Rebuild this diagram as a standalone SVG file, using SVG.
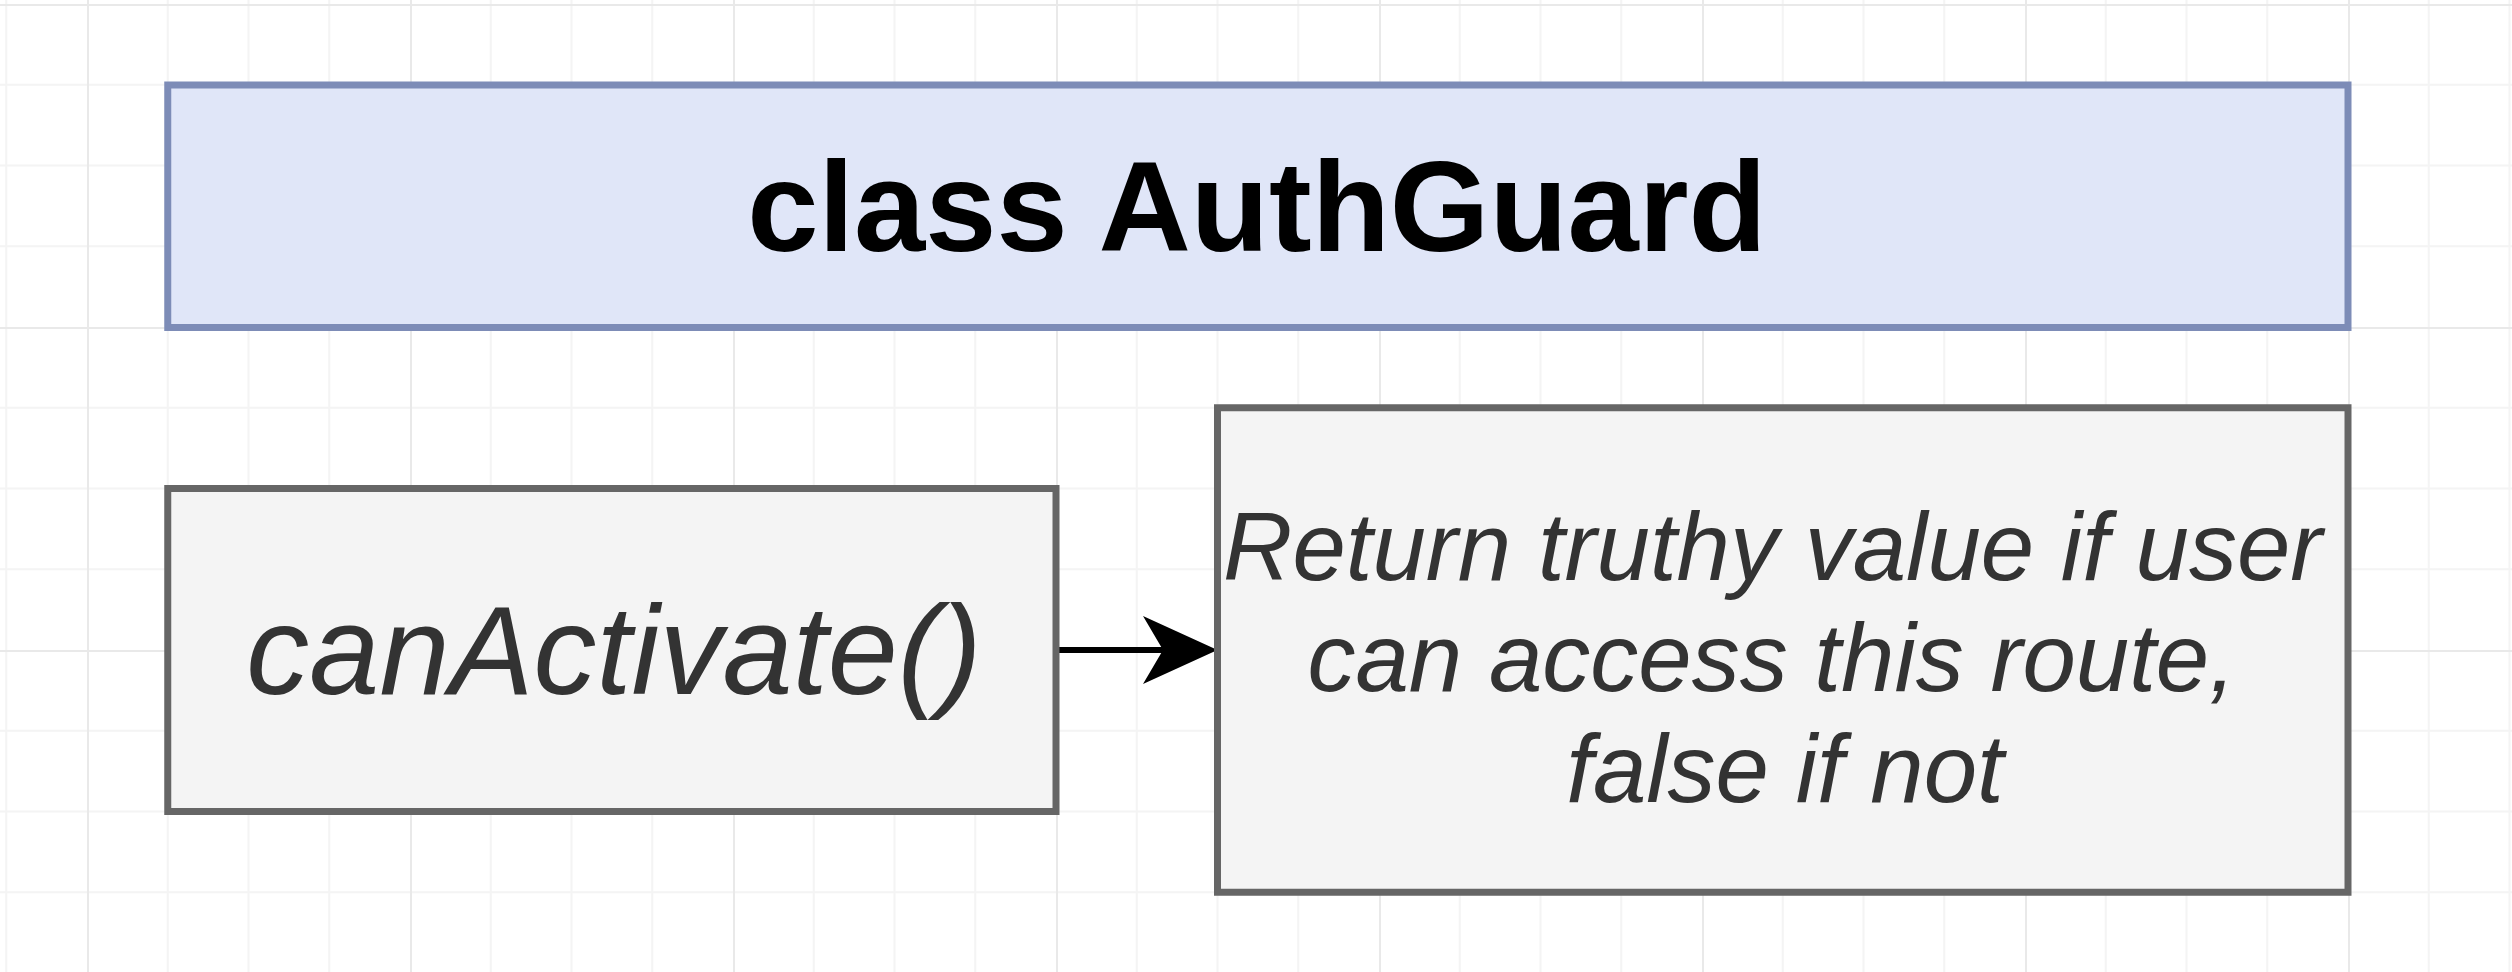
<svg xmlns="http://www.w3.org/2000/svg" width="2512" height="972" viewBox="0 0 2512 972">
<style>
.minor{stroke:#f4f4f4;stroke-width:2;fill:none}
.major{stroke:#e9e9e9;stroke-width:2;fill:none}
.gray{fill:#f4f4f4;stroke:#666666;stroke-width:7}
.blue{fill:#e0e6f8;stroke:#7d8cb7;stroke-width:7}
.lbl{font-family:"Liberation Sans",Arial,Helvetica,sans-serif;fill:#333333;font-style:italic;text-anchor:middle}
.title{font-family:"Liberation Sans",Arial,Helvetica,sans-serif;fill:#000000;font-weight:bold;text-anchor:middle}
.edge{stroke:#000000;stroke-width:6;fill:none}
.head{fill:#000000;stroke:none}
</style>
<defs>
<pattern id="grid" patternUnits="userSpaceOnUse" x="87" y="4" width="323" height="323">
<path class="minor" d="M80.75 0V323M161.5 0V323M242.25 0V323M0 80.75H323M0 161.5H323M0 242.25H323"/>
<path class="major" d="M1 0V323M0 1H323"/>
</pattern>
</defs>
<rect width="2512" height="972" fill="#ffffff"/>
<rect width="2512" height="972" fill="url(#grid)"/>
<g id="connectors">
<path class="edge" d="M1056 650H1165"/>
<path class="head" d="M1217.5 650L1143 616L1163 650L1143 684Z"/>
</g>
<g id="authguard">
<rect class="blue" x="167.75" y="85" width="2180.25" height="242.5"/>
<text class="title" x="1257" y="251" font-size="128">class AuthGuard</text>
</g>
<g id="canactivate">
<rect class="gray" x="167.75" y="488.5" width="888.25" height="323"/>
<text class="lbl" x="614" y="694" font-size="126">canActivate()</text>
</g>
<g id="description">
<rect class="gray" x="1217.5" y="407.75" width="1130.5" height="484.5"/>
<text class="lbl" font-size="96">
<tspan x="1786" y="580">Return truthy value if user</tspan>
<tspan x="1785" y="691">can access this route,</tspan>
<tspan x="1785" y="802">false if not</tspan>
</text>
</g>
</svg>
